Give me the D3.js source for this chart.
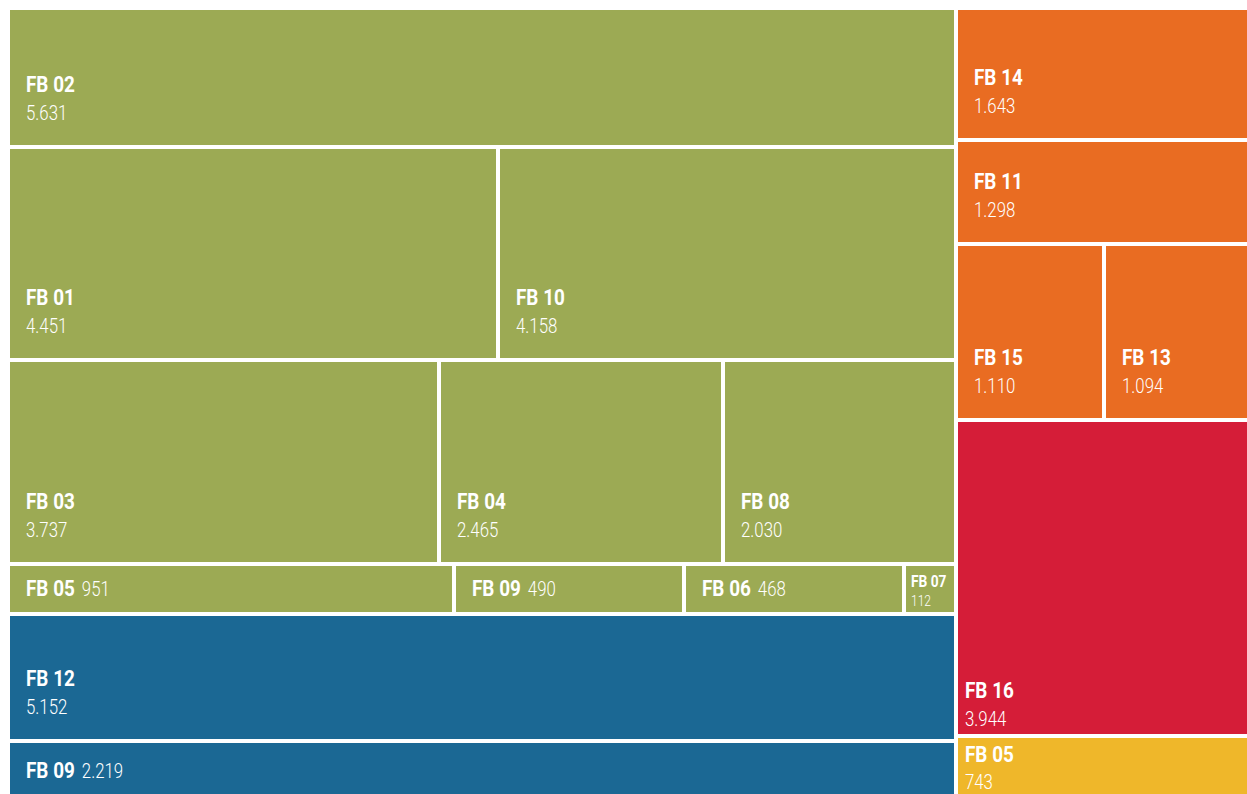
<!DOCTYPE html>
<html><head><meta charset="utf-8">
<script src="https://cdn.jsdelivr.net/npm/d3@7"></script>
<style>
html,body{margin:0;padding:0;background:#fff;overflow:hidden}
text{font-family:Roboto,"DejaVu Sans Condensed",sans-serif;fill:#fff}
</style></head><body>
<svg id="chart" width="1247" height="794"></svg>
<script>
// ---- data ----
const greenRows = [
  [["FB 02", 5631]],
  [["FB 01", 4451], ["FB 10", 4158]],
  [["FB 03", 3737], ["FB 04", 2465], ["FB 08", 2030]],
  [["FB 05", 951], ["FB 09", 490], ["FB 06", 468], ["FB 07", 112]]
];
const blueRows = [
  [["FB 12", 5152]],
  [["FB 09", 2219]]
];
const orangeRows = [
  [["FB 14", 1643]],
  [["FB 11", 1298]],
  [["FB 15", 1110], ["FB 13", 1094]]
];
const redRows = [[["FB 16", 3944]]];
const yellowRows = [[["FB 05", 743]]];

const groupNames = ["green", "blue", "orange", "red", "yellow"];
const groupColors = ["#9caa54", "#1b6894", "#e96c22", "#d51d38", "#efb72a"];
const columns = [["green", "blue"], ["orange", "red", "yellow"]];

// ---- build hierarchy ----
const rowsByGroup = {green: greenRows, blue: blueRows, orange: orangeRows, red: redRows, yellow: yellowRows};
const color = d3.scaleOrdinal().domain(groupNames).range(groupColors);
const fmt = v => d3.format(",")(v).replace(/,/g, ".");

const rootData = {
  name: "root",
  children: columns.map((col, ci) => ({
    name: "col" + ci,
    children: col.map(g => ({
      name: g,
      children: rowsByGroup[g].map((row, ri) => ({
        name: g + "-row" + ri,
        children: row.map(([n, v]) => ({name: n, value: v, group: g}))
      }))
    }))
  }))
};

const root = d3.hierarchy(rootData).sum(d => d.value || 0);

function tile(node, x0, y0, x1, y1) {
  if (node.depth === 0 || node.depth === 3) d3.treemapDice(node, x0, y0, x1, y1);
  else d3.treemapSlice(node, x0, y0, x1, y1);
}

d3.treemap().tile(tile).size([1237, 784]).paddingInner(4).round(true)(root);

const svg = d3.select("#chart");
const plot = svg.append("g").attr("transform", "translate(10,10)");
const leaves = root.leaves();

const cell = plot.selectAll("g.cell").data(leaves).join("g").attr("class", "cell");
cell.append("rect")
  .attr("x", d => d.x0).attr("y", d => d.y0)
  .attr("width", d => d.x1 - d.x0).attr("height", d => d.y1 - d.y0)
  .attr("fill", d => color(d.data.group));

const NAME_SX = 0.86, VAL_SX = 0.8;
function label(g, x, y, txt, size, bold, sx) {
  const t = g.append("text")
    .attr("transform", `translate(${x},${y}) scale(${sx},1)`)
    .attr("font-size", size)
    .attr("font-weight", bold ? 700 : 300)
    .text(txt);
  return t;
}

cell.each(function(d) {
  const g = d3.select(this);
  const w = d.x1 - d.x0, h = d.y1 - d.y0;
  const edge = d.data.group === "red" || d.data.group === "yellow";
  const pad = edge ? 7 : 16;
  const name = d.data.name, val = fmt(d.data.value);
  if (w < 130) {
    label(g, d.x0 + 5, d.y0 + 21, name, 16, true, NAME_SX);
    label(g, d.x0 + 5, d.y1 - 6, val, 15, false, VAL_SX);
  } else if (h < 80 && !edge) {
    const t = label(g, d.x0 + pad, d.y1 - 16, name, 22, true, NAME_SX);
    const nw = t.node().getComputedTextLength() * NAME_SX;
    label(g, d.x0 + pad + nw + 7, d.y1 - 16, val, 21, false, VAL_SX);
  } else if (h < 80 && edge) {
    label(g, d.x0 + pad, d.y0 + 24, name, 22, true, NAME_SX);
    label(g, d.x0 + pad, d.y0 + 51, val, 21, false, VAL_SX);
  } else {
    const b = edge ? 8 : 25;
    label(g, d.x0 + pad, d.y1 - b - 28, name, 22, true, NAME_SX);
    label(g, d.x0 + pad, d.y1 - b, val, 21, false, VAL_SX);
  }
});
</script>
</body></html>
